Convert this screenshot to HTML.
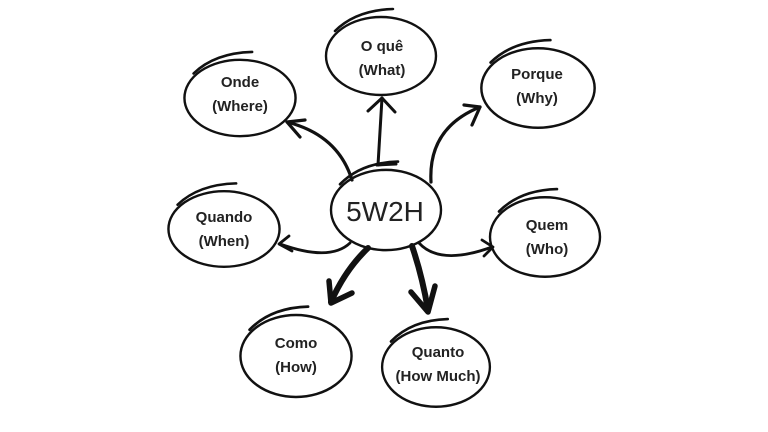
<!DOCTYPE html>
<html><head><meta charset="utf-8"><style>
html,body{margin:0;padding:0;background:#fff;}
svg{display:block}
text{font-family:"Liberation Sans",sans-serif;fill:#222;text-anchor:middle}
</style></head><body>
<svg width="768" height="432" viewBox="0 0 768 432" xmlns="http://www.w3.org/2000/svg">
<defs>
<g id="n">
<ellipse cx="0" cy="0" rx="55" ry="39" fill="none" stroke="#111" stroke-width="2.4"/>
<path d="M-46,-25 Q-25,-46 12,-47" fill="none" stroke="#111" stroke-width="2.6" stroke-linecap="round"/>
</g>
</defs>
<g stroke="#111" fill="none" stroke-linecap="round" stroke-linejoin="round">
<use href="#n" transform="translate(381,56)"/>
<use href="#n" transform="translate(240,98) scale(1.01,0.98)"/>
<use href="#n" transform="translate(538,88) scale(1.03,1.02)"/>
<use href="#n" transform="translate(224,229) scale(1.01,0.97)"/>
<use href="#n" transform="translate(386,210) scale(1,1.03)"/>
<use href="#n" transform="translate(545,237) scale(1,1.02)"/>
<use href="#n" transform="translate(296,356) scale(1.01,1.05)"/>
<use href="#n" transform="translate(436,367) scale(0.98,1.02)"/>
<path d="M378,165 L382,98" stroke-width="3"/>
<path d="M368,111 L382,98 L395,112" stroke-width="3"/>
<path d="M377,165 L396,164" stroke-width="3"/>
<path d="M352,180 Q338,135 287,122" stroke-width="3.2"/>
<path d="M300,137 L287,122 L305,120" stroke-width="3.2"/>
<path d="M431,182 Q428,128 480,107" stroke-width="3.2"/>
<path d="M464,105 L480,107 L472,125" stroke-width="3.2"/>
<path d="M350,243 Q330,262 280,244" stroke-width="2.8"/>
<path d="M289,236 L279,244 L292,251" stroke-width="2.8"/>
<path d="M419,243 Q440,266 492,247" stroke-width="2.8"/>
<path d="M482,240 L493,247 L484,256" stroke-width="2.8"/>
<path d="M368,248 Q345,270 331,302" stroke-width="6"/>
<path d="M329,281 L331,303 L352,293" stroke-width="5.5"/>
<path d="M412,246 Q422,275 428,310" stroke-width="6"/>
<path d="M411,292 L428,312 L435,286" stroke-width="5.5"/>
</g>
<g font-size="15" font-weight="bold" fill="#222">
<text x="382" y="51">O quê</text><text x="382" y="75">(What)</text>
<text x="240" y="87">Onde</text><text x="240" y="111">(Where)</text>
<text x="537" y="79">Porque</text><text x="537" y="103">(Why)</text>
<text x="224" y="222">Quando</text><text x="224" y="246">(When)</text>
<text x="547" y="230">Quem</text><text x="547" y="254">(Who)</text>
<text x="296" y="348">Como</text><text x="296" y="372">(How)</text>
<text x="438" y="357">Quanto</text><text x="438" y="381">(How Much)</text>
</g>
<text x="385" y="221" font-size="28">5W2H</text>
</svg>
</body></html>
